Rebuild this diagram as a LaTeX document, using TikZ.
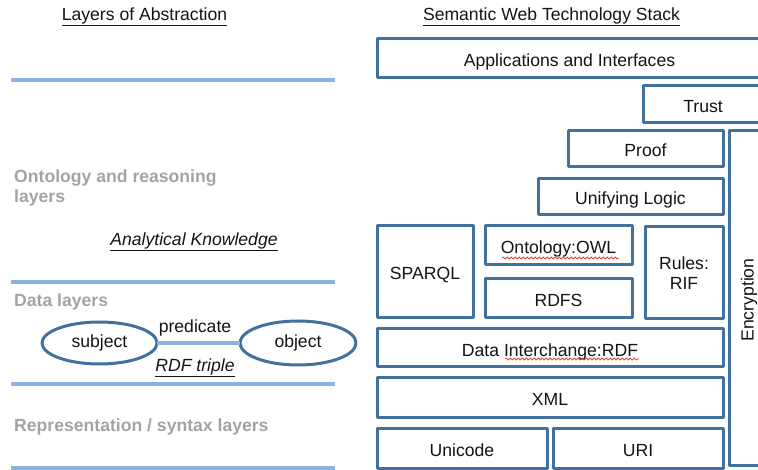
\documentclass[tikz,border=0pt]{standalone}
\usepackage{fontspec}
\setmainfont{Liberation Sans}
\usepackage{tikz}
\usetikzlibrary{positioning,shapes.geometric,decorations.pathmorphing}
\definecolor{boxline}{HTML}{41719C}
\definecolor{sepblue}{HTML}{8BB2DE}
\definecolor{muted}{HTML}{A3A3A3}
\definecolor{ink}{HTML}{141414}
\definecolor{spell}{HTML}{E0483C}
\newcommand{\stackfont}{\fontsize{17.6}{20.5}\selectfont}
\tikzset{
  layer/.style={
    draw=boxline, line width=3pt, fill=white,
    inner sep=0pt, outer sep=0pt, align=center, text=ink,
    text height=16pt, text depth=0pt
  },
  sepline/.style={draw=sepblue, line width=3.2pt},
  termnode/.style={
    ellipse, draw=boxline, line width=3pt,
    inner sep=0pt, outer sep=0pt, text=ink
  },
  greylabel/.style={anchor=west, text=muted, font=\stackfont\bfseries, align=left, inner sep=0pt},
  spellmark/.style={draw=spell, line width=0.8pt,
    decorate, decoration={snake, amplitude=1pt, segment length=4pt}}
}

\begin{document}
\begin{tikzpicture}[x=1pt, y=-1pt, font=\stackfont, line join=round]
  \useasboundingbox (0,0) rectangle (758,470);
  \clip (0,0) rectangle (758,470);

  % headings
  \node[text=ink] (lefttitle) at (144.5,17) {\underline{Layers of Abstraction}};
  \node[text=ink] (righttitle) at (551.5,17) {\underline{Semantic Web Technology Stack}};

  % separator lines of the layers
  \foreach \y in {80,282,384,468}
    \draw[sepline] (11,\y) -- (335,\y);

  % layer names
  \node[greylabel] (ontolayer) at (14,188) {Ontology and reasoning\\layers};
  \node[greylabel] (datalayer) at (14,302) {Data layers};
  \node[greylabel] (reprlayer) at (14,427) {Representation / syntax layers};
  \node[text=ink] (analytic) at (194,242) {\underline{\itshape Analytical Knowledge}};

  % RDF triple
  \node[termnode, minimum width=115, minimum height=42] (subject) at (99.5,343) {subject};
  \node[termnode, minimum width=116, minimum height=44] (object) at (298,343) {object};
  \draw[sepline] (subject) -- (object);
  \node[text=ink] (predicate) at (195,328) {predicate};
  \node[text=ink] (triple) at (195,368) {\underline{\itshape RDF triple}};

  % technology stack
  \node[layer, minimum width=385, minimum height=39] (app) at (569.5,58.5) {Applications and Interfaces};
  \node[layer, minimum width=120, minimum height=37] (trust) at (703,104.5) {Trust};
  \node[layer, minimum width=40, minimum height=334] (crypt) at (749,298) {};
  \node[rotate=90, text=ink] (crypttext) at (749,300) {Encryption};
  \node[layer, minimum width=155, minimum height=36] (proof) at (645.5,149) {Proof};
  \node[layer, minimum width=185, minimum height=36] (logic) at (630.5,197) {Unifying Logic};
  \node[layer, minimum width=96, minimum height=92] (sparql) at (425,272) {SPARQL};
  \node[layer, minimum width=147, minimum height=39] (owl) at (558.5,245.5) {Ontology:OWL};
  \node[layer, minimum width=147, minimum height=39] (rdfs) at (558.5,298.5) {RDFS};
  \node[layer, minimum width=78, minimum height=92, text height=, text depth=] (rif) at (684,273) {Rules:\\RIF};
  \node[layer, minimum width=346, minimum height=38] (rdf) at (550,348) {Data Interchange:RDF};
  \node[layer, minimum width=346, minimum height=39] (xml) at (550,397.5) {XML};
  \node[layer, minimum width=170, minimum height=40] (unicode) at (462,448) {Unicode};
  \node[layer, minimum width=170, minimum height=40] (uri) at (638,448) {URI};

  % spell-check marks
  \draw[spellmark] (502,258) -- (619,258);
  \draw[spellmark] (505,359) -- (639,359);
\end{tikzpicture}
\end{document}
